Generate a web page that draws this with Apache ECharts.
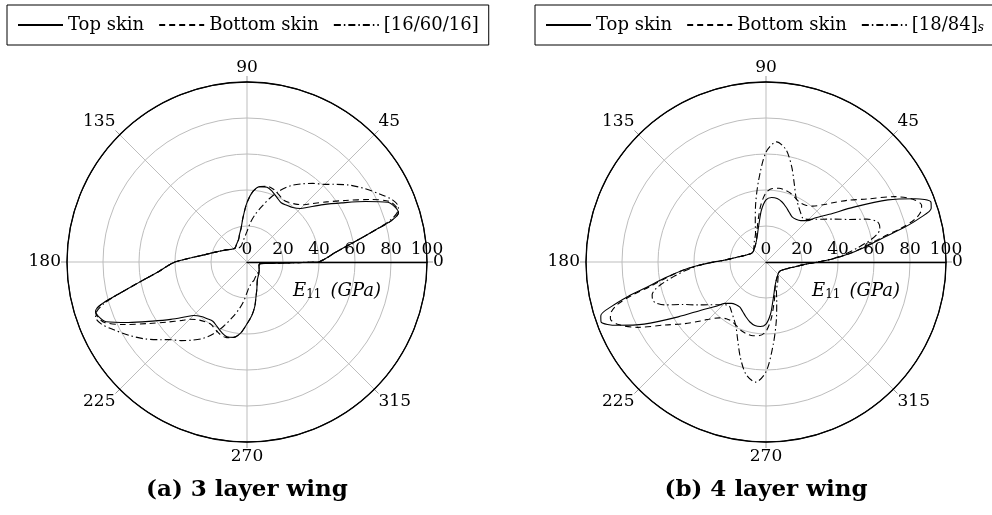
<!DOCTYPE html>
<html><head><meta charset="utf-8">
<script src="https://cdn.jsdelivr.net/npm/echarts@6/dist/echarts.min.js"></script>
<style>html,body{margin:0;padding:0;background:#fff}#c{width:992px;height:515px}</style>
</head><body><div id="c"></div>
<script>
// angle (degrees) of every sample, plot (a)
const THETA_A = [0,3,6,9,12,14,16,18,20,23,27,32,37,42,45,50,55,60,65,70,75,80,85,90,95,100,105,110,120,130,140,150,160,165,170,175,178,
  180,183,186,189,192,194,196,198,200,203,207,212,217,222,225,230,235,240,245,250,255,260,265,270,275,280,285,290,300,310,320,330,340,347,353,356,358,359,359.5,360];
// angle (degrees) of every sample, plot (b)
const THETA_B = [0,3,6,9,12,14,16,18,20,23,27,32,37,42,45,50,55,60,65,70,75,80,85,90,95,100,105,110,120,130,140,150,160,165,170,175,178,
  180,183,186,189,192,194,196,198,200,203,207,212,217,222,225,230,235,240,245,250,255,260,265,270,275,280,285,290,300,310,320,330,340,345,350,355,358,360];

// (a) 3 layer wing, E11 in GPa
const topA = [40,44.5,49,56,65.5,73.5,83.5,88.5,88,85,74,62,53,45.5,42,39.5,38.5,38,39.5,41.5,43,42.5,39.5,33,25,19,16,13.5,11.5,10.3,11,13.5,17,19.8,23.5,30,35.5,
  40,44.5,49,56,65.5,73.5,83.5,88.5,88,85,74,62,53,45.5,42,39.5,38.5,38,39.5,41.5,43,42.5,39.5,34.3,30,25,19.5,16,11.5,9.8,8.7,7.8,7.1,6.9,7.4,11.8,18.2,25,30.7,40];
const botA = [40,44.5,49,56,65.5,73.5,83.5,88.5,88.5,86,76.5,64.5,55.5,48.5,45,42,40.5,40,41.5,43,43.5,42.5,39.5,33,25,19,16,13.5,11.5,10.3,11,13.5,17,19.8,23.5,30,35.5,
  40,44.5,49,56,65.5,73.5,83.5,88.5,88.5,86,76.5,64.5,55.5,48.5,45,42,40.5,40,41.5,43,43.5,42.5,39.5,34.3,30,25,19.5,16,11.5,9.8,8.7,7.8,7.1,6.9,7.4,11.8,18.2,25,30.7,40];
const lamA = [40,44.5,49,56,65.5,73.5,82,87.5,89.5,88,83,77,71,64.5,61,57,53,49,44,38,32,27,22,17,14,12,10.5,9.5,9,10,11,13.5,17,19.8,23.5,30,35.5,
  40,44.5,49,56,65.5,73.5,82,87.5,89.5,88,83,77,71,64.5,61,57,53,49,44,38,32,27,22,17,14,12.5,11.5,11,9.5,9,8.3,7.8,7.1,6.9,7.4,11.8,18.2,25,30.7,40];

// (b) 4 layer wing, E11 in GPa
const topB = [29,38,47.5,57,68,79,89,96.5,97.5,90,76,57.5,44,36.5,32.5,30,29,29,30.5,32.5,34.5,35.8,36,34.5,29,22,17.5,14.5,11.5,10,9.2,9.5,11.5,13.2,16,20,24,
  29,38,47.5,57,68,79,89,96.5,97.5,90,76,57.5,44,36.5,32.5,30,29,29,30.5,32.5,34.5,35.8,36,34.5,29,22,17.5,14.5,11.5,10,9.2,9.5,11.5,13.2,16,20,24,29];
const botB = [29,38,47.5,56,66,77,86,90.5,92,89,80,66,57,49,45,40.5,38.5,38,39,40.5,41.3,41.6,41,38.5,32,24.5,19,15,11.5,10,9.2,9.5,11.5,13.2,16,20,24,
  29,38,47.5,56,66,77,86,90.5,92,89,80,66,57,49,45,40.5,38.5,38,39,40.5,41.3,41.6,41,38.5,32,24.5,19,15,11.5,10,9.2,9.5,11.5,13.2,16,20,24,29];
const lamB = [29,37.5,45,52,59.5,63.5,65.8,66.3,65.7,61,52,45,39.5,35.5,33.5,31.8,33.5,36,39.5,46,55,63.5,67,61,46,33,23,17,13,10.5,9.2,9.5,11.5,13.2,16,20,24,
  29,37.5,45,52,59.5,63.5,65.8,66.3,65.7,61,52,45,39.5,35.5,33.5,31.8,33.5,36,39.5,46,55,63.5,67,61,46,33,23,17,13,10.5,9.2,9.5,11.5,13.2,16,20,24,29];

const NAMES_A = ['Top skin', 'Bottom skin', '[16/60/16]'];
const NAMES_B = ['Top skin', 'Bottom skin', '[18/84]s'];
const CAPTIONS = ['(a) 3 layer wing', '(b) 4 layer wing'];
const ANGLE_MAX = 360, ANGLE_STEP = 45;
const R_MAX = 100, R_STEP = 20;

const SERIF = 'DejaVu Serif';
const DASH = [6, 4];
const DASHDOT = [7, 3, 1.5, 3];
const CENTERS = [[247, 262], [766, 262]];

const chart = echarts.init(document.getElementById('c'), null, {renderer: 'canvas'});

function mk(name, theta, vals, pi, type) {
  return {
    name, type: 'line', coordinateSystem: 'polar', polarIndex: pi,
    data: theta.map((t, i) => [vals[i], t]),
    symbol: 'none', showSymbol: false, smooth: 0.3, animation: false,
    lineStyle: {color: '#000', width: 1.1, type},
    itemStyle: {color: '#000'}, z: 3
  };
}

function legend(names, left) {
  return {
    data: names, left, top: 5, width: 560, orient: 'horizontal',
    itemWidth: 45, itemHeight: 14, itemGap: 14,
    padding: [11, 10, 11, 10],
    borderColor: '#000', borderWidth: 1, borderRadius: 0,
    selectedMode: false,
    itemStyle: {opacity: 0, borderWidth: 0},
    formatter: n => n === '[18/84]s' ? '[18/84]{s|s}' : n,
    textStyle: {fontFamily: SERIF, fontSize: 18, color: '#000',
      rich: {s: {fontFamily: SERIF, fontStyle: 'italic', fontSize: 12, color: '#000', verticalAlign: 'bottom', lineHeight: 10}}}
  };
}

const gray = '#bdbdbd';
const option = {
  backgroundColor: '#fff',
  animation: false,
  polar: CENTERS.map(c => ({center: c, radius: 180})),
  angleAxis: [0, 1].map(i => ({
    polarIndex: i, type: 'value', min: 0, max: ANGLE_MAX, interval: ANGLE_STEP,
    startAngle: 0, clockwise: false, z: 0,
    axisLine: {show: true, lineStyle: {color: '#000', width: 1.3}},
    axisTick: {show: true, length: 6, lineStyle: {color: '#999'}},
    axisLabel: {color: '#000', fontFamily: SERIF, fontSize: 17, margin: 6,
      formatter: v => v >= ANGLE_MAX ? '' : String(v)},
    splitLine: {show: true, lineStyle: {color: gray, width: 1}}
  })),
  radiusAxis: [0, 1].map(i => ({
    polarIndex: i, type: 'value', min: 0, max: R_MAX, interval: R_STEP, z: 1,
    axisLine: {show: true, lineStyle: {color: '#000', width: 1.3}},
    axisTick: {show: false},
    axisLabel: {color: '#000', fontFamily: SERIF, fontSize: 17, margin: 4},
    splitLine: {show: true, lineStyle: {color: [gray, gray, gray, gray, gray, '#000'], width: 1}},
    name: '{e|E}{s|11}{g|(GPa)}', nameLocation: 'middle', nameGap: 19,
    nameTextStyle: {rich: {
      e: {fontFamily: SERIF, fontStyle: 'italic', fontSize: 18, color: '#000', lineHeight: 20},
      s: {fontFamily: SERIF, fontSize: 12, color: '#000', verticalAlign: 'bottom', lineHeight: 10},
      g: {fontFamily: SERIF, fontStyle: 'italic', fontSize: 18, color: '#000', lineHeight: 20, padding: [0, 0, 0, 9]}
    }}
  })),
  legend: [legend(NAMES_A, 7), legend(NAMES_B, 535)],
  graphic: CAPTIONS.map((t, i) => ({
    type: 'text', x: CENTERS[i][0], y: 490,
    style: {text: t, fill: '#000', font: 'bold 23px "' + SERIF + '"', textAlign: 'center', textVerticalAlign: 'middle'}
  })),
  series: [
    mk(NAMES_A[0], THETA_A, topA, 0, 'solid'), mk(NAMES_A[1], THETA_A, botA, 0, DASH), mk(NAMES_A[2], THETA_A, lamA, 0, DASHDOT),
    mk(NAMES_B[0], THETA_B, topB, 1, 'solid'), mk(NAMES_B[1], THETA_B, botB, 1, DASH), mk(NAMES_B[2], THETA_B, lamB, 1, DASHDOT)
  ]
};
chart.setOption(option);
</script></body></html>
